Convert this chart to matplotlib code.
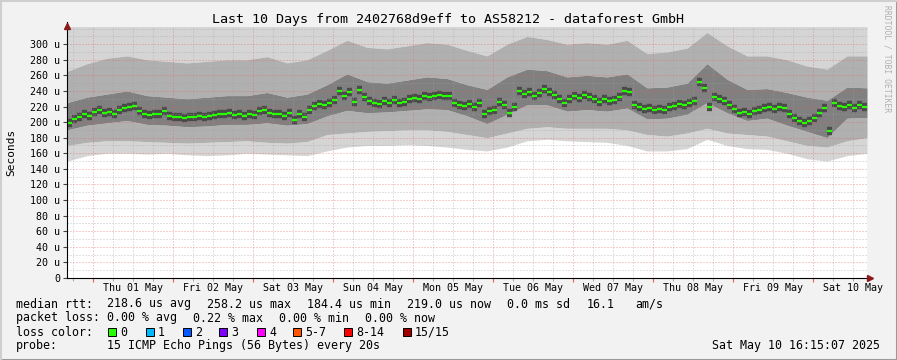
from datetime import datetime, timedelta

import matplotlib
matplotlib.use('Agg')
import matplotlib.pyplot as plt
import matplotlib.dates as mdates
from matplotlib.patches import Rectangle
from matplotlib.lines import Line2D

plt.rcParams['font.family'] = ['DejaVu Sans Mono']

# ---- data --------------------------------------------------------------
start = datetime(2025, 4, 30, 16, 15, 7)
end = datetime(2025, 5, 10, 16, 15, 7)

# median rtt in microseconds, one value per 1.5 h
median_us = [
    199, 204, 207, 210, 208, 213, 215, 212, 213, 211,
    215, 218, 219, 221, 214, 210, 209, 210, 211, 214,
    208, 206, 207, 205, 207, 206, 208, 207, 208, 209,
    211, 210, 212, 209, 210, 208, 211, 209, 214, 216,
    212, 210, 211, 208, 212, 203, 211, 207, 216, 221,
    223, 222, 224, 228, 240, 234, 238, 226, 241, 232,
    227, 224, 223, 227, 225, 228, 224, 226, 229, 231,
    229, 233, 232, 234, 235, 233, 234, 225, 222, 221,
    223, 220, 224, 210, 214, 216, 226, 222, 212, 220,
    240, 236, 238, 234, 237, 242, 238, 235, 230, 225,
    230, 233, 231, 235, 232, 229, 226, 230, 227, 228,
    232, 240, 238, 222, 219, 217, 218, 216, 217, 216,
    219, 221, 223, 222, 224, 227, 252, 244, 220, 232,
    230, 227, 222, 217, 212, 213, 211, 214, 216, 218,
    219, 217, 220, 218, 210, 205, 202, 199, 201, 205,
    212, 218, 188, 225, 221, 219, 222, 218, 222, 220,
]

# smoke envelopes (us), one value every 6 h incl. both ends
smoke_min = [150, 157, 160, 160, 159, 160, 158, 157, 158, 160,
             159, 158, 157, 163, 168, 170, 170, 171, 170, 168,
             165, 163, 168, 176, 178, 176, 175, 174, 170, 163,
             163, 166, 178, 170, 166, 165, 160, 153, 150, 157, 160]
smoke_lo2 = [170, 174, 176, 176, 175, 174, 173, 174, 175, 176,
             174, 173, 175, 184, 186, 188, 189, 190, 190, 188,
             184, 180, 186, 192, 194, 192, 192, 192, 190, 184,
             182, 186, 192, 186, 184, 182, 176, 170, 168, 176, 180]
smoke_lo1 = [190, 196, 199, 202, 197, 196, 194, 195, 197, 197,
             199, 196, 198, 208, 215, 212, 213, 215, 217, 216,
             208, 198, 210, 222, 222, 214, 216, 214, 218, 204,
             205, 210, 225, 212, 202, 205, 196, 188, 180, 205, 206]
smoke_hi1 = [225, 232, 236, 240, 234, 232, 230, 232, 234, 234,
             238, 232, 236, 248, 262, 252, 250, 254, 258, 256,
             248, 242, 258, 268, 266, 258, 260, 258, 262, 244,
             245, 250, 275, 255, 242, 243, 238, 232, 228, 245, 244]
smoke_hi2 = [265, 275, 282, 285, 280, 278, 276, 278, 280, 280,
             284, 276, 280, 292, 305, 296, 294, 298, 302, 300,
             292, 285, 300, 310, 306, 300, 302, 300, 305, 288,
             290, 295, 315, 298, 285, 285, 280, 272, 268, 285, 285]
smoke_max = [330] * 41   # clipped at the top of the graph

y_ticks = list(range(0, 301, 20))
y_tick_labels = ['0'] + [f'{v} u' for v in y_ticks[1:]]

loss_labels = ['0', '1', '2', '3', '4', '5-7', '8-14', '15/15']
loss_colors = ['#26ff00', '#00b8ff', '#0059ff', '#7e00ff',
               '#ff00ff', '#ff5500', '#ff0000', '#a00000']

title = 'Last 10 Days from 2402768d9eff to AS58212 - dataforest GmbH'

# ---- figure -------------------------------------------------------------
W, H = 897, 360
fig = plt.figure(figsize=(W / 100, H / 100), dpi=100)
fig.patch.set_facecolor('#f2f2f2')

px_l, px_r, px_t, px_b = 67, 867, 27, 278
ax = fig.add_axes([px_l / W, 1 - px_b / H, (px_r - px_l) / W, (px_b - px_t) / H])
ax.set_facecolor('white')

t_med = [start + timedelta(hours=0.75 + 1.5 * i) for i in range(len(median_us))]
t_env = [start + timedelta(hours=6 * i) for i in range(len(smoke_min))]

light, mid, dark, core = '#d5d5d5', '#b0b0b0', '#808080', '#4a4a4a'
ax.fill_between(t_env, smoke_min, smoke_lo2, color=light, lw=0, zorder=1)
ax.fill_between(t_env, smoke_hi2, smoke_max, color=light, lw=0, zorder=1)
ax.fill_between(t_env, smoke_lo2, smoke_lo1, color=mid, lw=0, zorder=1)
ax.fill_between(t_env, smoke_hi1, smoke_hi2, color=mid, lw=0, zorder=1)
ax.fill_between(t_env, smoke_lo1, smoke_hi1, color=dark, lw=0, zorder=1)

half = timedelta(hours=0.75)
t_lo = [t - half for t in t_med]
t_hi = [t + half for t in t_med]
ax.hlines(median_us, t_lo, t_hi, color=core, lw=6, zorder=2, capstyle='butt')
ax.hlines(median_us, t_lo, t_hi, color=loss_colors[0], lw=1.6, zorder=4, capstyle='butt')

ax.set_xlim(start, end)
ax.set_ylim(0, 322)

# grid, drawn over the smoke like rrdtool does
ax.set_axisbelow(False)
ax.yaxis.set_major_locator(plt.FixedLocator(y_ticks))
ax.yaxis.set_minor_locator(plt.MultipleLocator(10))
ax.set_yticklabels(y_tick_labels)
ax.xaxis.set_major_locator(mdates.DayLocator())
ax.xaxis.set_minor_locator(mdates.HourLocator(byhour=[0, 6, 12, 18]))
ax.xaxis.set_major_formatter(plt.NullFormatter())
ax.grid(which='minor', color='#a0a0a0', alpha=0.6, lw=0.72, ls=(0, (1, 2)), zorder=3)
ax.grid(which='major', color='#e06060', alpha=0.6, lw=0.72, ls=(0, (1, 2)), zorder=3)

# day labels centred at noon
for d in range(1, 11):
    noon = datetime(2025, 5, d, 12)
    ax.text(mdates.date2num(noon), -7, noon.strftime('%a %d May'),
            ha='center', va='top', fontsize=7.2)

ax.tick_params(axis='y', which='major', length=3, labelsize=7.2, pad=2, color='#444444')
ax.tick_params(axis='y', which='minor', length=0)
ax.tick_params(axis='x', which='major', length=3, color='#e06060')
ax.tick_params(axis='x', which='minor', length=2, color='#999999')

for s in ['top', 'right']:
    ax.spines[s].set_visible(False)
for s in ['left', 'bottom']:
    ax.spines[s].set_color('#000000')
    ax.spines[s].set_linewidth(0.8)
    ax.spines[s].set_zorder(5)

# arrows at the axis ends
arrow_col = '#8b1a1a'
ax.plot([0], [1.005], marker='^', ms=5, color=arrow_col, transform=ax.transAxes, clip_on=False, zorder=6)
ax.plot([1.004], [0], marker='>', ms=5, color=arrow_col, transform=ax.transAxes, clip_on=False, zorder=6)
ax.plot([0, 0], [1.0, 1.02], color='black', lw=0.8, transform=ax.transAxes, clip_on=False)
ax.plot([1.0, 1.005], [0, 0], color='black', lw=0.8, transform=ax.transAxes, clip_on=False)

fig.text(448 / W, 1 - 19 / H, title, ha='center', va='center', fontsize=9.6)
fig.text(11 / W, 1 - 152 / H, 'Seconds', rotation=90, ha='center', va='center', fontsize=8)
fig.text(887 / W, 1 - 5 / H, 'RRDTOOL / TOBI OETIKER', rotation=270, ha='center', va='top',
         fontsize=5.8, color='#b0b0b0')

# legend block
fs = 8.4
def put(x, y, s, **kw):
    fig.text(x / W, 1 - y / H, s, ha='left', va='center', fontsize=fs, **kw)

put(16, 304, 'median rtt:')
for x, s in zip([107, 207, 307, 407, 507, 587, 635],
                ['218.6 us avg', '258.2 us max', '184.4 us min', '219.0 us now',
                 '0.0 ms sd', '16.1', 'am/s']):
    put(x, 304, s)

put(16, 318, 'packet loss:')
for x, s in zip([107, 193, 279, 365],
                ['0.00 % avg', '0.22 % max', '0.00 % min', '0.00 % now']):
    put(x, 318, s)

put(16, 332, 'loss color:')
sw_x = [108, 146, 183, 219, 257, 293, 344, 403]
for x, lab, col in zip(sw_x, loss_labels, loss_colors):
    fig.patches.append(Rectangle((x / W, 1 - 336 / H), 8 / W, 8 / H, transform=fig.transFigure,
                                 facecolor=col, edgecolor='black', lw=0.7))
    put(x + 12, 332, lab)

put(16, 346, 'probe:')
put(107, 346, '15 ICMP Echo Pings (56 Bytes) every 20s')
fig.text(880 / W, 1 - 346 / H, 'Sat May 10 16:15:07 2025', ha='right', va='center', fontsize=fs)

# 3d frame around the image
fig.lines.append(Line2D([0, 1], [0.5 / H, 0.5 / H], transform=fig.transFigure, color='#9a9a9a', lw=1.5))
fig.lines.append(Line2D([1 - 0.5 / W, 1 - 0.5 / W], [0, 1], transform=fig.transFigure, color='#9a9a9a', lw=1.5))
fig.lines.append(Line2D([0, 1], [1 - 0.5 / H, 1 - 0.5 / H], transform=fig.transFigure, color='#cfcfcf', lw=1.5))
fig.lines.append(Line2D([0.5 / W, 0.5 / W], [0, 1], transform=fig.transFigure, color='#cfcfcf', lw=1.5))

fig.savefig('out.png', dpi=100, facecolor=fig.get_facecolor())
